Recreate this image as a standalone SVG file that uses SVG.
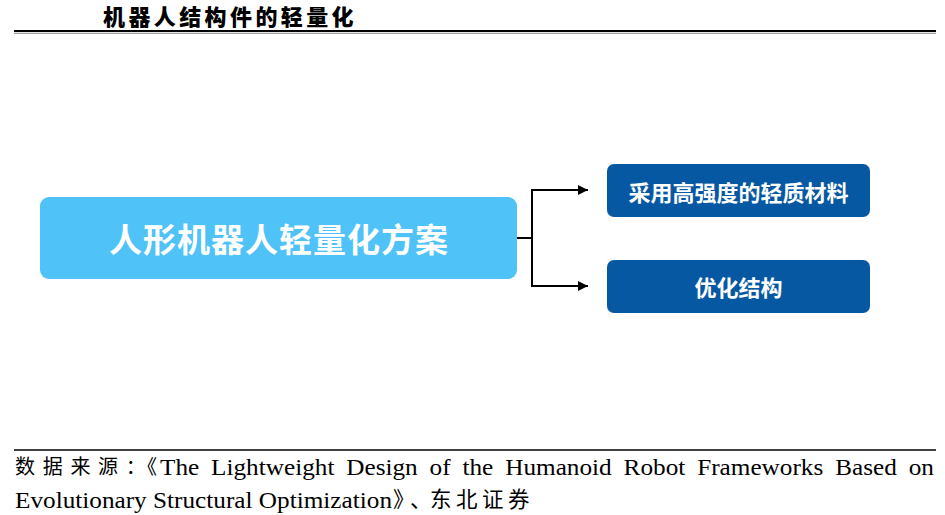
<svg xmlns="http://www.w3.org/2000/svg" width="945" height="515" viewBox="0 0 945 515">
  <style>
    .title { font-family: "Noto Sans CJK SC", sans-serif; font-weight: 900; font-size: 22px; fill: #000; letter-spacing: 3.4px; }
    .main { font-family: "Noto Sans CJK SC", sans-serif; font-weight: 700; font-size: 33px; fill: #fff; letter-spacing: 1px; }
    .sub { font-family: "Noto Sans CJK SC", sans-serif; font-weight: 700; font-size: 22px; fill: #fff; }
    .src { font-family: "Liberation Serif", "Noto Sans CJK SC", serif; font-size: 23.5px; fill: #000; }
    .srccn { font-family: "Noto Sans CJK SC", sans-serif; font-weight: 400; fill: #000; }
    .conn { fill: none; stroke: #000; stroke-width: 2; }
  </style>
  <defs>
    <marker id="arrow" viewBox="0 0 10 10" refX="10" refY="5" markerWidth="10" markerHeight="10" markerUnits="userSpaceOnUse" orient="auto">
      <path d="M0,0 L10,5 L0,10 Z" fill="#000"/>
    </marker>
  </defs>
  <rect width="945" height="515" fill="#fff"/>

  <!-- header -->
  <g id="header">
    <text class="title" x="103" y="25">机器人结构件的轻量化</text>
    <line x1="14" y1="31" x2="936" y2="31" stroke="#000" stroke-width="2"/>
    <line x1="14" y1="33.3" x2="936" y2="33.3" stroke="#555" stroke-width="0.7"/>
  </g>

  <!-- nodes -->
  <g id="node-main">
    <rect x="40" y="197" width="477" height="82" rx="9" fill="#4FC3F7"/>
    <text class="main" x="279" y="252" text-anchor="middle">人形机器人轻量化方案</text>
  </g>
  <g id="node-material">
    <rect x="607" y="164" width="263" height="53" rx="7" fill="#0758A3"/>
    <text class="sub" x="738.5" y="201" text-anchor="middle">采用高强度的轻质材料</text>
  </g>
  <g id="node-structure">
    <rect x="607" y="260" width="263" height="53" rx="7" fill="#0758A3"/>
    <text class="sub" x="738.5" y="296" text-anchor="middle">优化结构</text>
  </g>

  <!-- connectors -->
  <g id="connectors">
    <line class="conn" x1="517" y1="238" x2="532" y2="238"/>
    <line class="conn" x1="532" y1="189" x2="532" y2="287"/>
    <line class="conn" x1="531" y1="190" x2="588" y2="190" marker-end="url(#arrow)"/>
    <line class="conn" x1="531" y1="286" x2="588" y2="286" marker-end="url(#arrow)"/>
  </g>

  <!-- source footer -->
  <g id="footer">
    <line x1="14" y1="450" x2="936" y2="450" stroke="#000" stroke-width="1.6"/>
    <text class="srccn" x="15 42.7 70.4 98.1 125.8 137" y="474" font-size="20">数据来源：《</text>
    <text class="src" x="160" y="475" textLength="39.2" lengthAdjust="spacingAndGlyphs">The</text>
    <text class="src" x="211.1" y="475" textLength="123.3" lengthAdjust="spacingAndGlyphs">Lightweight</text>
    <text class="src" x="346.3" y="475" textLength="71.4" lengthAdjust="spacingAndGlyphs">Design</text>
    <text class="src" x="429.6" y="475" textLength="21" lengthAdjust="spacingAndGlyphs">of</text>
    <text class="src" x="462.5" y="475" textLength="30.8" lengthAdjust="spacingAndGlyphs">the</text>
    <text class="src" x="505.2" y="475" textLength="106.5" lengthAdjust="spacingAndGlyphs">Humanoid</text>
    <text class="src" x="623.6" y="475" textLength="61.7" lengthAdjust="spacingAndGlyphs">Robot</text>
    <text class="src" x="697.2" y="475" textLength="126.1" lengthAdjust="spacingAndGlyphs">Frameworks</text>
    <text class="src" x="835.2" y="475" textLength="61.6" lengthAdjust="spacingAndGlyphs">Based</text>
    <text class="src" x="908.7" y="475" textLength="25.2" lengthAdjust="spacingAndGlyphs">on</text>
    <text class="src" x="15" y="508" textLength="377" lengthAdjust="spacingAndGlyphs">Evolutionary Structural Optimization</text>
    <text class="srccn" x="393 410 430 456 482 508" y="507" font-size="21.5">》、东北证券</text>
  </g>
</svg>
